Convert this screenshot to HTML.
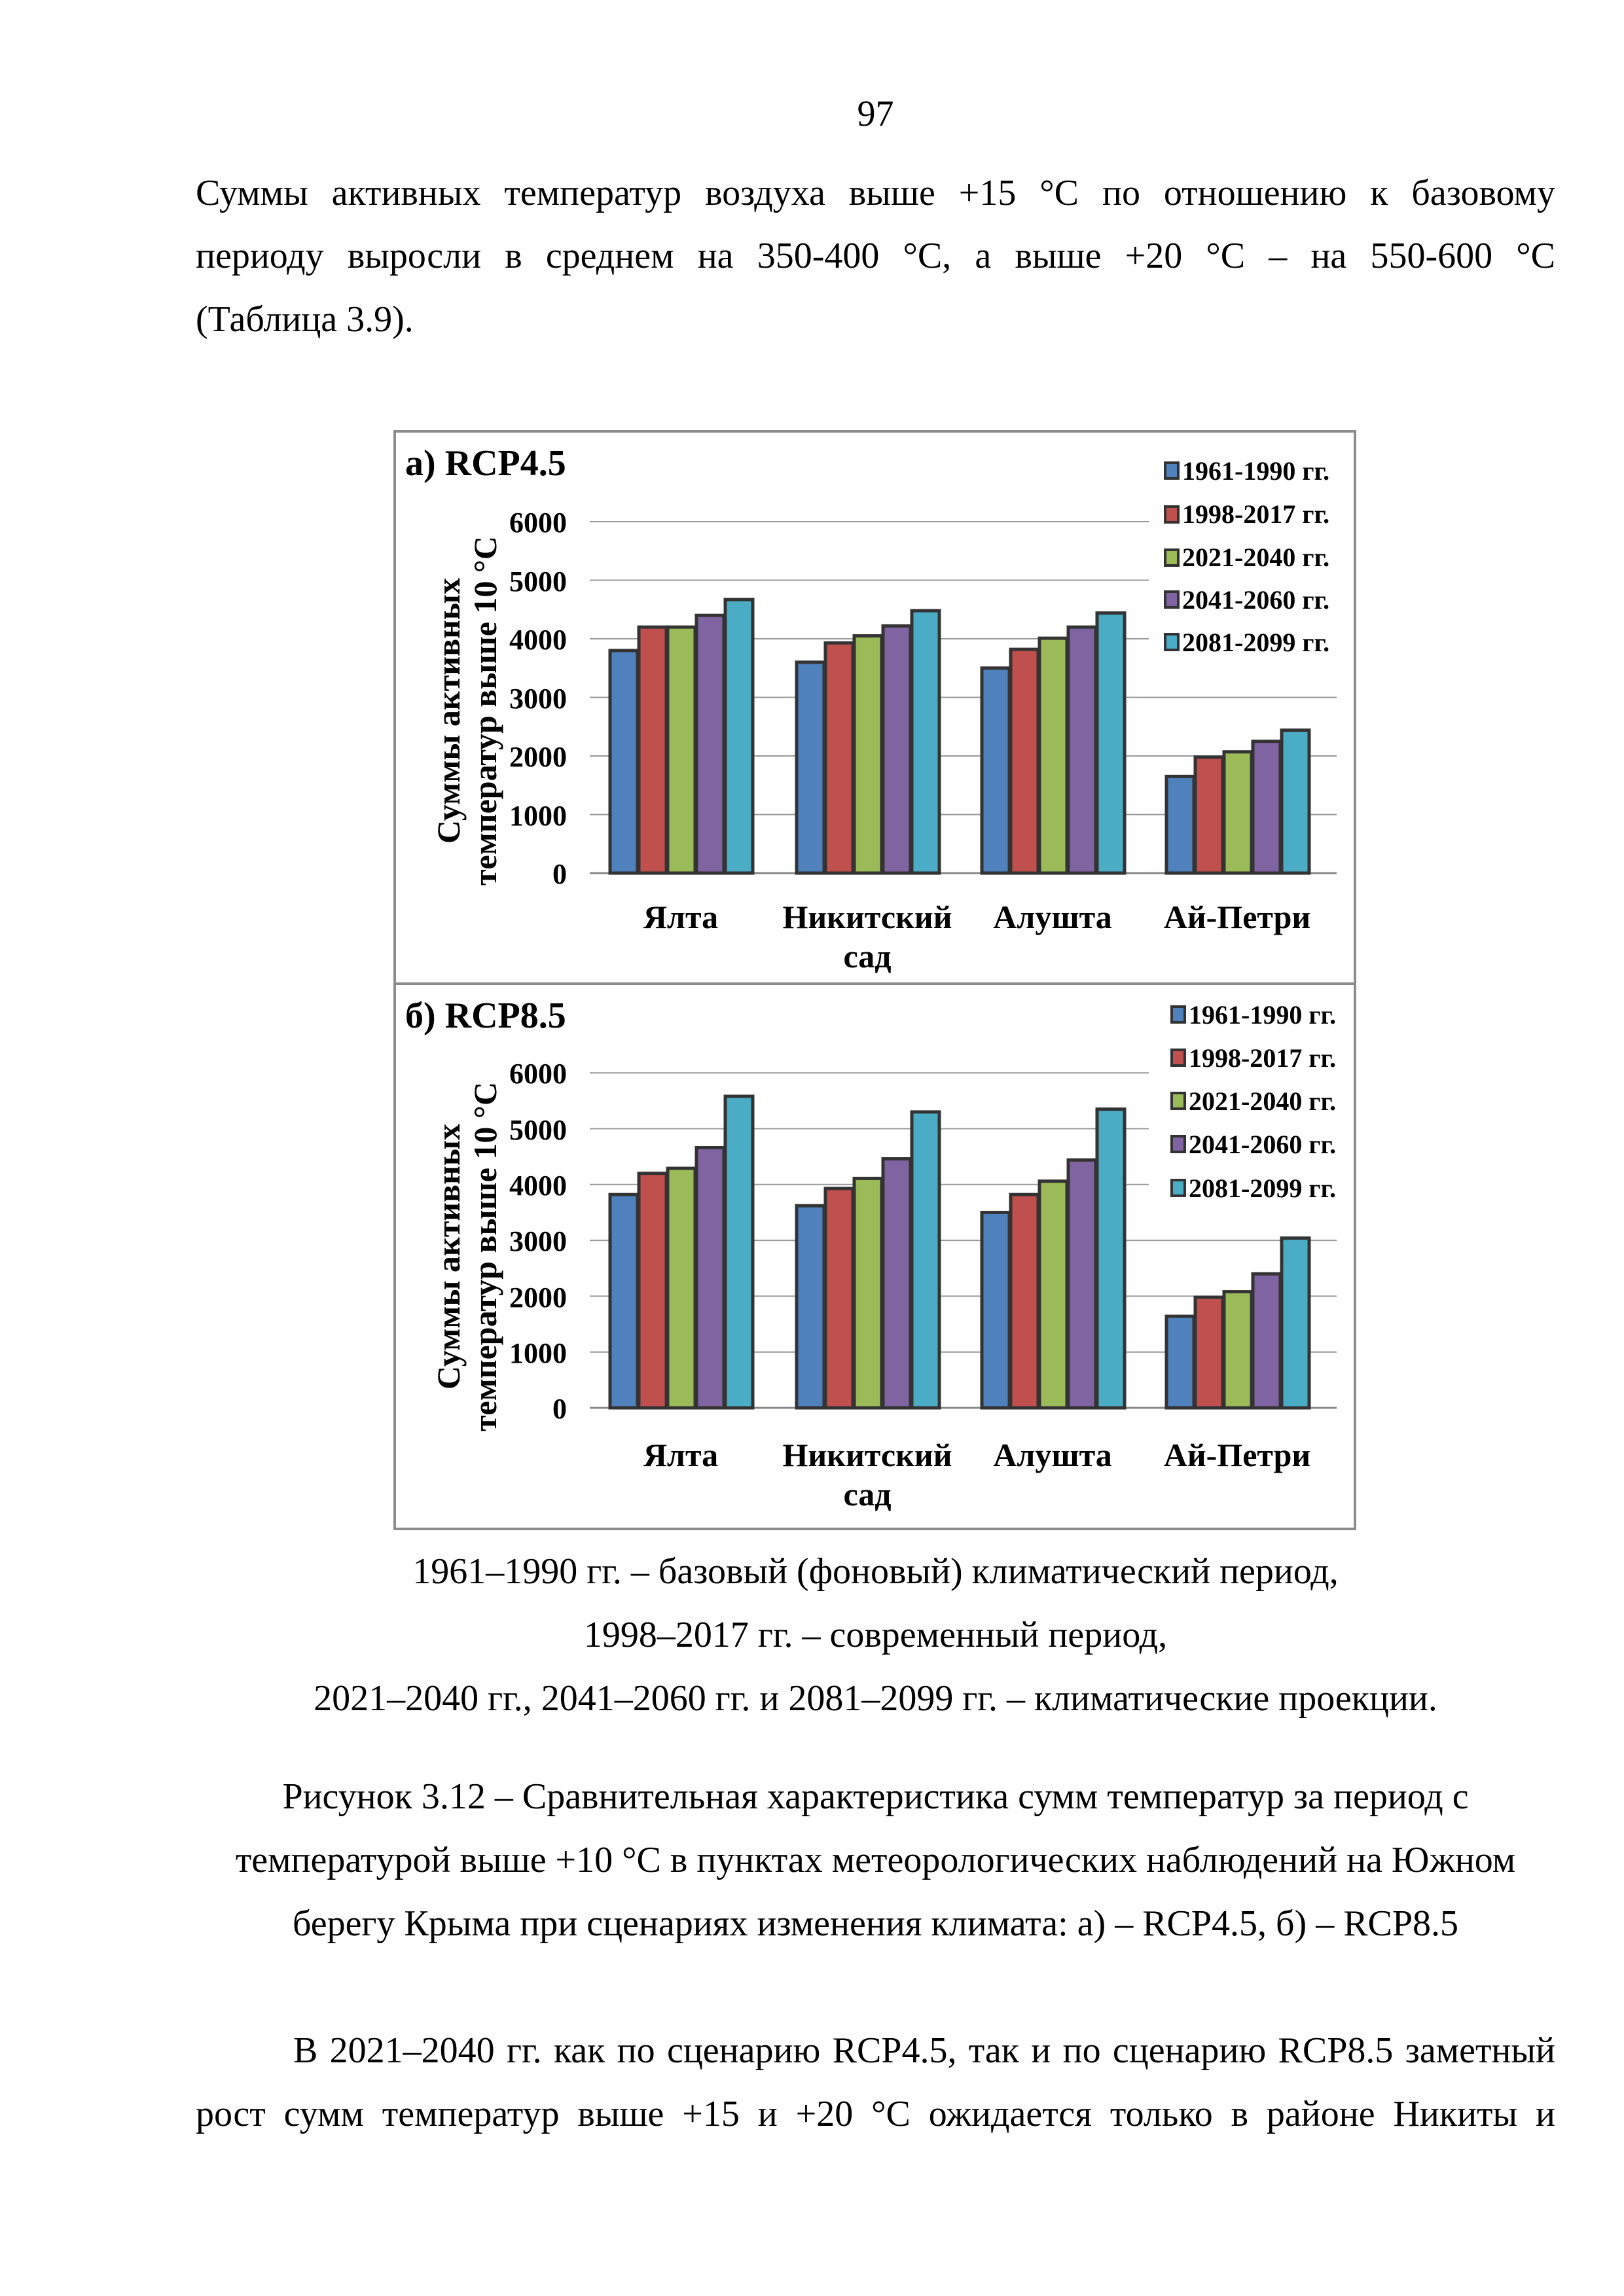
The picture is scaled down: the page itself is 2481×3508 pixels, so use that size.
<!DOCTYPE html>
<html><head><meta charset="utf-8">
<style>
html,body{margin:0;padding:0;background:#fff;}
body{width:2481px;height:3508px;position:relative;overflow:hidden;font-family:"Liberation Serif",serif;color:#000;}
.l{position:absolute;font-size:56px;line-height:58px;white-space:nowrap;}
.j{left:299px;width:2077px;text-align:justify;text-align-last:justify;}
.c{left:299px;width:2077px;text-align:center;}
svg{position:absolute;left:0;top:0;}
</style></head><body>
<div class="l c" style="top:145px;">97</div>
<div class="l j" style="top:266px;">Суммы активных температур воздуха выше +15 °С по отношению к базовому</div>
<div class="l j" style="top:362px;">периоду выросли в среднем на 350-400 °С, а выше +20 °С – на 550-600 °С</div>
<div class="l" style="top:459px;left:299px;">(Таблица 3.9).</div>

<div class="l c" style="top:2372px;">1961–1990 гг. – базовый (фоновый) климатический период,</div>
<div class="l c" style="top:2469px;">1998–2017 гг. – современный период,</div>
<div class="l c" style="top:2566px;">2021–2040 гг., 2041–2060 гг. и 2081–2099 гг. – климатические проекции.</div>

<div class="l c" style="top:2716px;">Рисунок 3.12 – Сравнительная характеристика сумм температур за период с</div>
<div class="l c" style="top:2813px;">температурой выше +10 °С в пунктах метеорологических наблюдений на Южном</div>
<div class="l c" style="top:2910px;">берегу Крыма при сценариях изменения климата: а) – RCP4.5, б) – RCP8.5</div>

<div class="l" style="top:3104px;left:448px;width:1928px;text-align:justify;text-align-last:justify;">В 2021–2040 гг. как по сценарию RCP4.5, так и по сценарию RCP8.5 заметный</div>
<div class="l j" style="top:3201px;">рост сумм температур выше +15 и +20 °С ожидается только в районе Никиты и</div>

<svg width="2481" height="3508" xmlns="http://www.w3.org/2000/svg" font-family="Liberation Serif, serif" font-weight="bold">
<rect x="603" y="659" width="1467" height="1677" fill="none" stroke="#8c8c8c" stroke-width="4"/>
<line x1="603" y1="1503" x2="2070" y2="1503" stroke="#8c8c8c" stroke-width="4"/>
<g id="ga"></g><g id="gb"></g>
<!-- chart a text -->
<text x="619" y="726" font-size="56">а)  RCP4.5</text>
<g font-size="44" text-anchor="end">
<text x="866" y="1350">0</text><text x="866" y="1261">1000</text><text x="866" y="1171">2000</text>
<text x="866" y="1082">3000</text><text x="866" y="992">4000</text><text x="866" y="903">5000</text><text x="866" y="813">6000</text>
</g>
<g font-size="50" text-anchor="middle">
<text x="1040" y="1418">Ялта</text><text x="1325" y="1418">Никитский</text><text x="1325" y="1478">сад</text>
<text x="1608" y="1418">Алушта</text><text x="1890" y="1418">Ай-Петри</text>
</g>
<g font-size="50" text-anchor="middle">
<text transform="translate(702,1086) rotate(-90)">Суммы активных</text>
<text transform="translate(758,1086) rotate(-90)">температур выше 10 °С</text>
</g>
<g font-size="40">
<text x="1806" y="733">1961-1990 гг.</text><text x="1806" y="799">1998-2017 гг.</text><text x="1806" y="865">2021-2040 гг.</text>
<text x="1806" y="930">2041-2060 гг.</text><text x="1806" y="995">2081-2099 гг.</text>
</g>
<!-- chart b text -->
<text x="619" y="1570" font-size="56">б) RCP8.5</text>
<g font-size="44" text-anchor="end">
<text x="866" y="2167">0</text><text x="866" y="2082">1000</text><text x="866" y="1997">2000</text>
<text x="866" y="1911">3000</text><text x="866" y="1826">4000</text><text x="866" y="1741">5000</text><text x="866" y="1655">6000</text>
</g>
<g font-size="50" text-anchor="middle">
<text x="1040" y="2240">Ялта</text><text x="1325" y="2240">Никитский</text><text x="1325" y="2300">сад</text>
<text x="1608" y="2240">Алушта</text><text x="1890" y="2240">Ай-Петри</text>
</g>
<g font-size="50" text-anchor="middle">
<text transform="translate(702,1920) rotate(-90)">Суммы активных</text>
<text transform="translate(758,1920) rotate(-90)">температур выше 10 °С</text>
</g>
<g font-size="40">
<text x="1816" y="1564">1961-1990 гг.</text><text x="1816" y="1630">1998-2017 гг.</text><text x="1816" y="1696">2021-2040 гг.</text>
<text x="1816" y="1762">2041-2060 гг.</text><text x="1816" y="1829">2081-2099 гг.</text>
</g>
</svg>
<script>
(function(){
var NS="http://www.w3.org/2000/svg";
var cols=["#4f81bd","#c0504d","#9bbb59","#8064a2","#4bacc6"];
var centers=[1040,1325,1608,1890];
function el(g,n,a){var e=document.createElementNS(NS,n);for(var k in a)e.setAttribute(k,a[k]);g.appendChild(e);return e;}
function chart(id,y0,u,vals,legX,legY){
 var g=document.getElementById(id);
 for(var i=1;i<=6;i++){var y=y0-u*i;
  var x2=(y<legY[4]+25)?1755:2042;
  el(g,"line",{x1:901,y1:y,x2:x2,y2:y,stroke:"#999","stroke-width":2});}
 el(g,"line",{x1:901,y1:y0,x2:2042,y2:y0,stroke:"#888","stroke-width":3});
 for(var c=0;c<4;c++)for(var s=0;s<5;s++){
  var h=vals[c][s]/1000*u, x=centers[c]-110+s*44;
  el(g,"rect",{x:x+2,y:y0-h,width:42,height:h,fill:cols[s],stroke:"#333","stroke-width":5});
 }
 for(var s=0;s<5;s++){
  el(g,"rect",{x:legX,y:legY[s]-12,width:20,height:24,fill:cols[s],stroke:"#333","stroke-width":4});
 }
}
chart("ga",1334,89.5,[[3800,4200,4200,4400,4670],[3600,3930,4050,4220,4480],[3500,3820,4010,4200,4440],[1650,1980,2070,2250,2440]],1780,[719,786,852,916,981]);
chart("gb",2151,85.3,[[3820,4200,4290,4660,5580],[3620,3930,4110,4460,5300],[3500,3820,4060,4440,5350],[1640,1980,2080,2400,3040]],1790,[1550,1616,1682,1748,1815]);
})();
</script>
</body></html>
